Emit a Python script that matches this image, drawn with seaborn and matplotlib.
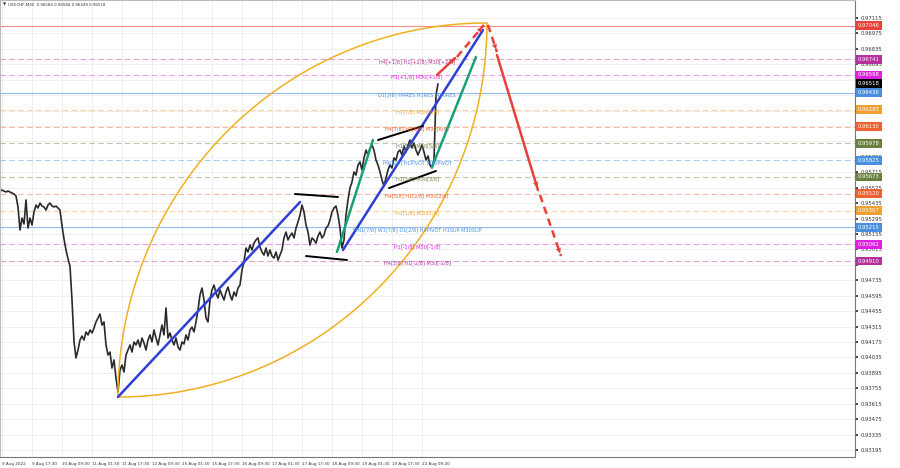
import numpy as np
import matplotlib.pyplot as plt
import matplotlib.transforms as mtransforms
import seaborn as sns

# USDCHF M30 closes, one reading about every 2.13 bars
closes = [
    0.95545, 0.95554, 0.95545, 0.95536, 0.95545, 0.95536, 0.95527, 0.95518,
    0.95500, 0.95400, 0.95191, 0.95300, 0.95246, 0.95464, 0.95209, 0.95300,
    0.95237, 0.95355, 0.95418, 0.95391, 0.95436, 0.95409, 0.95400, 0.95373,
    0.95418, 0.95436, 0.95409, 0.95400, 0.95409, 0.95391, 0.95373, 0.95230,
    0.95110, 0.95010, 0.94930, 0.94864, 0.94556, 0.94180, 0.94030, 0.94102,
    0.94193, 0.94229, 0.94193, 0.94266, 0.94239, 0.94284, 0.94257, 0.94302,
    0.94357, 0.94393, 0.94429, 0.94329, 0.94357, 0.94148, 0.94057, 0.94084,
    0.93939, 0.94012, 0.93848, 0.93721, 0.93921, 0.93966, 0.93903, 0.94057,
    0.94102, 0.94148, 0.94084, 0.94175, 0.94148, 0.94193, 0.94130, 0.94211,
    0.94166, 0.94102, 0.94193, 0.94239, 0.94175, 0.94284, 0.94211, 0.94148,
    0.94239, 0.94329, 0.94239, 0.94484, 0.94211, 0.94257, 0.94193, 0.94148,
    0.94211, 0.94130, 0.94102, 0.94175, 0.94157, 0.94239, 0.94193, 0.94284,
    0.94311, 0.94266, 0.94357, 0.94465, 0.94602, 0.94665, 0.94556, 0.94393,
    0.94357, 0.94556, 0.94647, 0.94692, 0.94620, 0.94574, 0.94647, 0.94602,
    0.94556, 0.94629, 0.94674, 0.94602, 0.94556, 0.94629, 0.94592, 0.94665,
    0.94692, 0.94828, 0.94901, 0.95028, 0.94992, 0.95055, 0.95010, 0.95073,
    0.95101, 0.95119, 0.95037, 0.94992, 0.94964, 0.95028, 0.94955, 0.95010,
    0.94955, 0.94937, 0.94992, 0.94919, 0.94964, 0.95010, 0.95119, 0.95173,
    0.95101, 0.95137, 0.95164, 0.95119, 0.95209, 0.95264, 0.95327, 0.95418,
    0.95355, 0.95237, 0.95173, 0.95055, 0.95119, 0.95101, 0.95073, 0.95137,
    0.95173, 0.95119, 0.95146, 0.95209, 0.95228, 0.95282, 0.95355, 0.95391,
    0.95409, 0.95327, 0.95209, 0.95028, 0.95101, 0.95327, 0.95464, 0.95572,
    0.95627, 0.95718, 0.95690, 0.95781, 0.95808, 0.95736, 0.95845, 0.95917,
    0.95872, 0.95935, 0.95963, 0.95917, 0.95826, 0.95781, 0.95718, 0.95645,
    0.95591, 0.95663, 0.95736, 0.95781, 0.95754, 0.95845, 0.95826, 0.95899,
    0.95917, 0.95872, 0.95953, 0.95899, 0.95963, 0.96008, 0.95935, 0.95981,
    0.95917, 0.95872, 0.95917, 0.95963, 0.95899, 0.95826, 0.95863, 0.95781,
    0.95754, 0.95826, 0.96416, 0.96518,
]

time_labels = ['9 Aug 2022', '9 Aug 17:30', '10 Aug 09:30', '11 Aug 01:30',
               '11 Aug 17:30', '12 Aug 09:30', '15 Aug 01:30', '15 Aug 17:30',
               '16 Aug 09:30', '17 Aug 01:30', '17 Aug 17:30', '18 Aug 09:30',
               '19 Aug 01:30', '19 Aug 17:30', '22 Aug 09:30']

# Murrey math levels
level_values = [0.97046, 0.96741, 0.96598, 0.96436, 0.96283, 0.96130, 0.95978,
                0.95825, 0.95673, 0.95520, 0.95367, 0.95215, 0.95062, 0.94910]
level_names = ['', 'H4[+1/8] H1[+2/8] M30[+2/8]', 'H1[+1/8] M30[+1/8]',
               'D1[3/8] H4RES H1RES M30RES', 'H1[7/8] M30[7/8]',
               'H4[7/8] H1[6/8] M30[6/8]', 'H1[5/8] M30[5/8]',
               'H4[6/8] H1PIVOT M30PIVOT', 'H1[3/8] M30[3/8]',
               'H4[5/8] H1[2/8] M30[2/8]', 'H1[1/8] M30[1/8]',
               'MN1[7/8] W1[7/8] D1[2/8] H4PIVOT H1SUP M30SUP',
               'H1[-1/8] M30[-1/8]', 'H4[3/8] H1[-2/8] M30[-2/8]']
level_colors = ['#e8403a', '#b4309c', '#e020e0', '#4a90e0', '#f0a030',
                '#f06030', '#6a8040', '#4a90e0', '#6a8040', '#f06030',
                '#f0a030', '#4a90e0', '#e020e0', '#b4309c']
level_solid = [True, False, False, True, False, False, False,
               False, False, False, False, True, False, False]

last_price = 0.96518
title_text = 'USDCHF,M30  0.96584 0.96584 0.96449 0.96518'

# trend lines: (bar, price) pairs
blue_lines = [[(123.7, 0.93676), (317.9, 0.95445)],
              [(363.7, 0.95010), (513.1, 0.97006)]]
green_lines = [[(357.3, 0.94992), (395.7, 0.96008)],
               [(458.7, 0.95763), (505.6, 0.96761)]]
black_lines = [[(312.5, 0.95518), (358.4, 0.95491)],
               [(324.3, 0.94955), (368.0, 0.94919)],
               [(401.1, 0.96008), (449.1, 0.96135)],
               [(412.8, 0.95572), (462.9, 0.95727)]]
arc_start = (123.7, 0.93676)
arc_end = (517.3, 0.97070)
# forecast arrows: start, end, dashed
forecast = [((464.0, 0.96598), (483.2, 0.96752), False),
            ((485.3, 0.96761), (514.1, 0.97052), True),
            ((518.4, 0.97052), (528.0, 0.96806), True),
            ((528.0, 0.96779), (571.7, 0.95554), False),
            ((573.9, 0.95509), (596.3, 0.94955), True)]

sns.set_theme(style='white')
plt.rcParams['font.family'] = ['DejaVu Sans']

fig = plt.figure(figsize=(9, 4.68), dpi=100)
ax = fig.add_axes([0.0, 11 / 468, 855 / 900, 1 - 11 / 468])

bars = -2.13 + np.arange(len(closes)) * 32 / 15
sns.lineplot(x=bars, y=closes, color='#2a2a2a', linewidth=1.2, ax=ax, sort=False)

# horizontal levels
for val, name, col, solid in zip(level_values, level_names, level_colors, level_solid):
    if solid:
        ax.axhline(val, color=col, lw=0.8, alpha=0.6, zorder=1)
    else:
        ax.axhline(val, color=col, lw=0.8, alpha=0.45, ls=(0, (5, 3)), zorder=1)
    if name:
        ax.annotate(name, (442.7, val), xytext=(0, -1.6), textcoords='offset points',
                    ha='center', va='center', fontsize=3.6, color=col, zorder=5)

# arcs
t = np.linspace(0, np.pi / 2, 120)
x0, y0 = arc_start
x1, y1 = arc_end
ax.plot(x1 - (x1 - x0) * np.cos(t), y0 + (y1 - y0) * np.sin(t), color='#f0b020', lw=1.1)
ax.plot(x0 + (x1 - x0) * np.sin(t), y1 - (y1 - y0) * np.cos(t), color='#f0b020', lw=1.1)

for seg in blue_lines:
    ax.plot(*zip(*seg), color='#2f3fd6', lw=1.8, zorder=4)
for seg in green_lines:
    ax.plot(*zip(*seg), color='#18a07a', lw=1.8, zorder=4)
for seg in black_lines:
    ax.plot(*zip(*seg), color='#000000', lw=1.4, zorder=4)

red = '#e8403a'
for (sx, sy), (ex, ey), dashed in forecast:
    ax.plot([sx, ex], [sy, ey], color=red, lw=1.8, ls=(0, (3, 2)) if dashed else '-', zorder=6)
    ax.annotate('', xy=(ex, ey), xytext=(sx + 0.8 * (ex - sx), sy + 0.8 * (ey - sy)),
                arrowprops=dict(arrowstyle='-|>', color=red, lw=0.1, mutation_scale=9),
                zorder=6)

# axes
ax.set_xlim(-2.13, 909.9)
ax.set_ylim(0.931314, 0.972785)
px = (0.972785 - 0.931314) / 457   # price per pixel
box_vals = level_values + [last_price]
box_cols = level_colors + ['#000000']
yticks = [0.93195 + 0.0014 * k for k in range(29)]
ax.yaxis.tick_right()
ax.set_yticks(yticks)
# labels hidden behind a coloured price box stay blank
ax.set_yticklabels([f'{v:.5f}' if min(abs(v + 2 * px - b) for b in box_vals) > 3 * px else ''
                    for v in yticks])
shift = mtransforms.ScaledTranslation(0, 2 / 100, fig.dpi_scale_trans)
for lab in ax.get_yticklabels():
    lab.set_transform(lab.get_transform() + shift)
ax.set_xticks([32 * k for k in range(len(time_labels))])
ax.set_xticklabels(time_labels, ha='left')
ax.tick_params(axis='y', labelsize=3.8, length=2, pad=2, colors='#333333')
ax.tick_params(axis='x', labelsize=3.0, length=2, pad=1.5, colors='#333333')
ax.grid(True, which='major', axis='both', color='#ececec', lw=0.6)
for side in ['top', 'left']:
    ax.spines[side].set_color('#bbbbbb')
for side in ['right', 'bottom']:
    ax.spines[side].set_color('#777777')
for sp in ax.spines.values():
    sp.set_linewidth(0.8)

trans = mtransforms.blended_transform_factory(ax.transAxes, ax.transData)
for val, col in zip(box_vals, box_cols):
    ax.text(1.0035, val, f'{val:.5f}', transform=trans, fontsize=3.8, color='white',
            va='center', ha='left', clip_on=False, zorder=10,
            bbox=dict(boxstyle='square,pad=0.35', fc=col, ec='none'))

ax.text(0.003, 0.994, '\u25bc', transform=ax.transAxes, fontsize=3.0, va='top', color='#333333')
ax.text(0.009, 0.994, title_text, transform=ax.transAxes, fontsize=2.9, va='top', color='#333333')

fig.savefig('out.png', dpi=100, facecolor='white')
